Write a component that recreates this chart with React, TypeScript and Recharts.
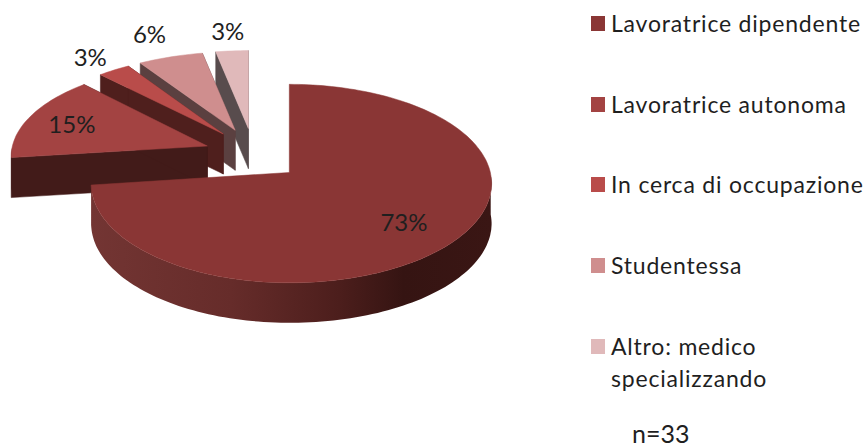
import { Legend, Pie, PieChart } from "recharts";

const categories = [
  "Lavoratrice dipendente",
  "Lavoratrice autonoma",
  "In cerca di occupazione",
  "Studentessa",
  "Altro: medico specializzando",
];
const shares = [73, 15, 3, 6, 3];
const sampleNote = "n=33";

const topColors = ["#8a3635", "#a34342", "#b94c4a", "#cf8e8e", "#e0b9ba"];
const wallColors = ["#5a2523", "#421b19", "#4f1f1d", "#5b4040", "#584c4d"];
const labelRadii = [0.72, 0.76, 1.24, 1.37, 1.3];

const FONT = "Lato, sans-serif";
const TEXT = "#1f1f1f";
const RADIUS = 201;
const SQUASH = 98;
const PERSPECTIVE = 0.111;
const DEPTH = 40;
const BLOW_X = 0.241;
const BLOW_Y = 0.132;

// drawn back to front, so the big slice ends up on top
const rows = categories
  .map((name, i) => ({ name, value: shares[i], fill: topColors[i], wall: wallColors[i], labelRadius: labelRadii[i] }))
  .reverse();

const legendRows = [
  { y: 32, lines: [categories[0]] },
  { y: 113, lines: [categories[1]] },
  { y: 193, lines: [categories[2]] },
  { y: 274, lines: [categories[3]] },
  { y: 355, lines: ["Altro: medico", "specializzando"] },
];

function frame(cx: number, cy: number, midAngle: number) {
  const rad = (midAngle * Math.PI) / 180;
  const um = Math.cos(rad);
  const vm = -Math.sin(rad);
  return {
    ax: cx + RADIUS * BLOW_X * um,
    ay: cy + RADIUS * BLOW_Y * vm,
    sx: 1 + 0.01 * (vm - 0.66),
    sy: 1 + 0.07 * (vm - 0.66),
  };
}

function project(f: any, angle: number, r: number) {
  const rad = (angle * Math.PI) / 180;
  const u = Math.cos(rad) * r;
  const v = -Math.sin(rad) * r;
  const s = 1 / (1 - PERSPECTIVE * v);
  const lean = u < 0 ? 0.98 : 1;
  return [f.ax + RADIUS * f.sx * lean * u * s, f.ay + SQUASH * f.sy * v * s, v];
}

const toPath = (pts: number[][]) =>
  "M" + pts.map((p) => p[0].toFixed(1) + "," + p[1].toFixed(1)).join("L") + "Z";
const drop = (p: number[]) => [p[0], p[1] + DEPTH];

function Slice3D(props: any) {
  const { cx, cy, startAngle, endAngle, midAngle, fill, payload } = props;
  const mid = midAngle ?? (startAngle + endAngle) / 2;
  const f = frame(cx, cy, mid);
  const apex = project(f, 0, 0);
  const arc: number[][] = [];
  const steps = Math.max(4, Math.ceil(Math.abs(endAngle - startAngle) / 1.5));
  for (let i = 0; i <= steps; i++) {
    arc.push(project(f, startAngle + ((endAngle - startAngle) * i) / steps, 1));
  }
  const first = arc[0];
  const last = arc[arc.length - 1];
  const front = arc.filter((p) => p[2] >= 0);
  const isMain = payload?.value === shares[0] || props.value === shares[0];
  const wall = payload?.wall ?? props.wall;
  const rimFill = isMain ? "url(#mainRim)" : wall;
  return (
    <g>
      {!isMain && (
        <path d={toPath([apex, last, drop(last), drop(apex)])} fill={wall} stroke={wall} strokeWidth={0.5} />
      )}
      {!isMain && (
        <path d={toPath([apex, first, drop(first), drop(apex)])} fill={wall} stroke={wall} strokeWidth={0.5} />
      )}
      {front.length > 1 && (
        <path d={toPath([...front, ...front.map(drop).reverse()])} fill={rimFill} />
      )}
      <path d={toPath([apex, ...arc])} fill={fill} stroke={fill} strokeWidth={0.5} />
    </g>
  );
}

function sliceLabel(props: any) {
  const { cx, cy, midAngle, value, payload } = props;
  const f = frame(cx, cy, midAngle);
  const p = project(f, midAngle, payload?.labelRadius ?? props.labelRadius);
  return (
    <text
      x={p[0]}
      y={p[1]}
      textAnchor="middle"
      dominantBaseline="central"
      fontFamily={FONT}
      fontSize={24}
      fill={TEXT}
    >
      {value}%
    </text>
  );
}

function legendContent() {
  return (
    <svg width={866} height={448} style={{ display: "block" }}>
      {legendRows.map((row, i) => (
        <g key={row.lines[0]}>
          <rect x={591} y={row.y - 16} width={14} height={15} fill={topColors[i]} />
          {row.lines.map((line, j) => (
            <text
              key={line}
              x={611}
              y={row.y + j * 32}
              fontFamily={FONT}
              fontSize={23}
              letterSpacing={0.8}
              fill={TEXT}
            >
              {line}
            </text>
          ))}
        </g>
      ))}
      <text x={632} y={443} fontFamily={FONT} fontSize={25} fill={TEXT}>
        {sampleNote}
      </text>
    </svg>
  );
}

export default function App() {
  return (
    <div style={{ position: "absolute", left: 0, top: 0, width: 866, height: 448 }}>
      <PieChart width={866} height={448} margin={{ top: 0, right: 0, bottom: 0, left: 0 }}>
        <defs>
          <linearGradient id="mainRim" x1="0" y1="0" x2="1" y2="0">
            <stop offset="0%" stopColor="#733533" />
            <stop offset="35%" stopColor="#662c2a" />
            <stop offset="62%" stopColor="#4c1e1c" />
            <stop offset="78%" stopColor="#351412" />
            <stop offset="100%" stopColor="#3a1614" />
          </linearGradient>
        </defs>
        <Pie
          data={rows}
          dataKey="value"
          nameKey="name"
          cx={253}
          cy={155}
          outerRadius={RADIUS}
          startAngle={90}
          endAngle={450}
          stroke="none"
          shape={Slice3D}
          inactiveShape={Slice3D}
          activeShape={Slice3D}
          label={sliceLabel}
          labelLine={false}
          isAnimationActive={false}
        />
        <Legend content={legendContent} wrapperStyle={{ left: 0, top: 0, width: 866, height: 448 }} />
      </PieChart>
    </div>
  );
}
